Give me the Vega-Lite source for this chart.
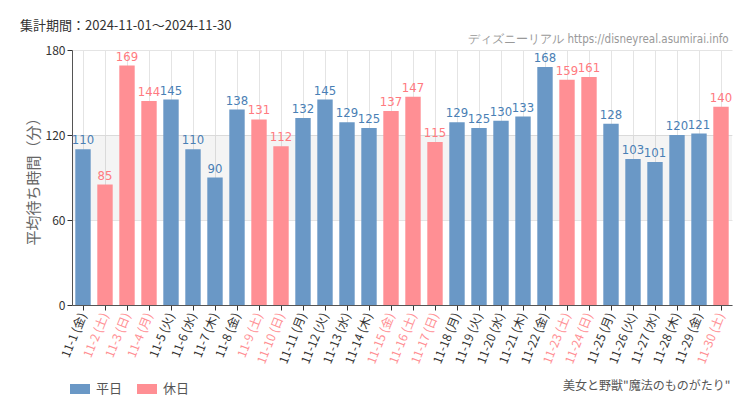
{
  "$schema": "https://vega.github.io/schema/vega-lite/v6.json",
  "width": 660,
  "height": 255,
  "autosize": "none",
  "padding": {"left": 72, "top": 50, "right": 18, "bottom": 105},
  "background": "white",
  "title": {"text": "集計期間：2024-11-01～2024-11-30", "anchor": "start", "frame": "group", "dx": -52, "dy": 17, "offset": 18, "fontSize": 13, "fontWeight": "normal", "color": "#333", "font": "Noto Sans CJK JP"},
  "config": {"view": {"stroke": null}, "font": "Noto Sans CJK JP"},
  "datasets": {
    "main": [
      {"date": "11-1 (金)", "value": 110, "type": "平日"},
      {"date": "11-2 (土)", "value": 85, "type": "休日"},
      {"date": "11-3 (日)", "value": 169, "type": "休日"},
      {"date": "11-4 (月)", "value": 144, "type": "休日"},
      {"date": "11-5 (火)", "value": 145, "type": "平日"},
      {"date": "11-6 (水)", "value": 110, "type": "平日"},
      {"date": "11-7 (木)", "value": 90, "type": "平日"},
      {"date": "11-8 (金)", "value": 138, "type": "平日"},
      {"date": "11-9 (土)", "value": 131, "type": "休日"},
      {"date": "11-10 (日)", "value": 112, "type": "休日"},
      {"date": "11-11 (月)", "value": 132, "type": "平日"},
      {"date": "11-12 (火)", "value": 145, "type": "平日"},
      {"date": "11-13 (水)", "value": 129, "type": "平日"},
      {"date": "11-14 (木)", "value": 125, "type": "平日"},
      {"date": "11-15 (金)", "value": 137, "type": "休日"},
      {"date": "11-16 (土)", "value": 147, "type": "休日"},
      {"date": "11-17 (日)", "value": 115, "type": "休日"},
      {"date": "11-18 (月)", "value": 129, "type": "平日"},
      {"date": "11-19 (火)", "value": 125, "type": "平日"},
      {"date": "11-20 (水)", "value": 130, "type": "平日"},
      {"date": "11-21 (木)", "value": 133, "type": "平日"},
      {"date": "11-22 (金)", "value": 168, "type": "平日"},
      {"date": "11-23 (土)", "value": 159, "type": "休日"},
      {"date": "11-24 (日)", "value": 161, "type": "休日"},
      {"date": "11-25 (月)", "value": 128, "type": "平日"},
      {"date": "11-26 (火)", "value": 103, "type": "平日"},
      {"date": "11-27 (水)", "value": 101, "type": "平日"},
      {"date": "11-28 (木)", "value": 120, "type": "平日"},
      {"date": "11-29 (金)", "value": 121, "type": "平日"},
      {"date": "11-30 (土)", "value": 140, "type": "休日"}
    ],
    "band": [{"lo": 60, "hi": 120}]
  },
  "data": {"name": "main"},
  "encoding": {
    "x": {
      "field": "date", "type": "nominal", "sort": null,
      "scale": {"paddingInner": 0.3, "paddingOuter": 0.15},
      "axis": {
        "title": "美女と野獣\"魔法のものがたり\"",
        "titleX": 658, "titleY": 80, "titleAlign": "right", "titleAnchor": null, "titleBaseline": "middle",
        "titleFontSize": 12, "titleFontWeight": "normal", "titleColor": "#555",
        "labelAngle": -68, "labelFontSize": 12, "labelPadding": 3,
        "labelColor": {"condition": {"test": "datum.value === '11-2 (土)' || datum.value === '11-3 (日)' || datum.value === '11-4 (月)' || datum.value === '11-9 (土)' || datum.value === '11-10 (日)' || datum.value === '11-15 (金)' || datum.value === '11-16 (土)' || datum.value === '11-17 (日)' || datum.value === '11-23 (土)' || datum.value === '11-24 (日)' || datum.value === '11-30 (土)'", "value": "#ff8f94"}, "value": "#333"},
        "bandPosition": 0.5, "grid": true, "gridColor": "#e4e4e4",
        "tickColor": "#333", "tickSize": 5, "domainColor": "#555"
      }
    }
  },
  "layer": [
    {
      "data": {"name": "band"},
      "mark": {"type": "rect", "color": "#000", "opacity": 0.045},
      "encoding": {
        "x": null,
        "y": {"field": "lo", "type": "quantitative", "scale": {"domain": [0, 180]}},
        "y2": {"field": "hi"}
      }
    },
    {
      "mark": {"type": "bar"},
      "encoding": {
        "y": {
          "field": "value", "type": "quantitative", "scale": {"domain": [0, 180]},
          "axis": {"values": [0, 60, 120, 180], "title": "平均待ち時間（分）", "titleFontSize": 15, "titleFontWeight": "normal", "titleColor": "#666", "titlePadding": 4,
                   "labelFontSize": 12, "labelColor": "#333", "gridColor": "#e4e4e4", "tickColor": "#333", "domainColor": "#555", "tickSize": 5}
        },
        "color": {
          "field": "type", "type": "nominal",
          "scale": {"domain": ["平日", "休日"], "range": ["#6a98c6", "#ff8f94"]},
          "legend": {"title": null, "orient": "none", "direction": "horizontal", "legendX": -2, "legendY": 329,
                     "symbolType": "M-1,-0.5H1V0.5H-1Z", "symbolSize": 400, "symbolOpacity": 1, "symbolStrokeWidth": 0,
                     "labelFontSize": 13, "labelColor": "#555", "columnPadding": 14, "labelOffset": 6}
        }
      }
    },
    {
      "mark": {"type": "text", "dy": -9, "fontSize": 13, "font": "DejaVu Sans Condensed, Roboto"},
      "encoding": {
        "y": {"field": "value", "type": "quantitative"},
        "text": {"field": "value"},
        "color": {"condition": {"test": "datum.type === '休日'", "value": "#ff7a80"}, "value": "#4a7fb5"}
      }
    },
    {
      "data": {"values": [{"src": "ディズニーリアル https://disneyreal.asumirai.info"}]},
      "mark": {"type": "text", "align": "right", "dy": -10, "fontSize": 11.5, "color": "#999", "font": "DejaVu Sans Condensed, Roboto"},
      "encoding": {
        "x": {"datum": "11-30 (土)", "type": "nominal", "bandPosition": 1},
        "y": {"datum": 180, "type": "quantitative"},
        "text": {"field": "src"}
      }
    }
  ]
}
